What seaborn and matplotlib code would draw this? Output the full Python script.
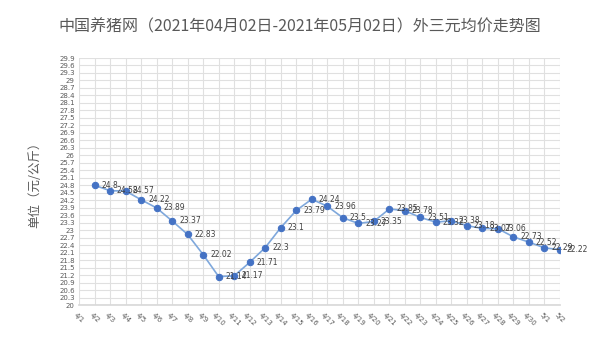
import numpy as np
import pandas as pd
import matplotlib
matplotlib.use("Agg")
import matplotlib.pyplot as plt
import seaborn as sns

# category axis: 4/1 .. 5/2
all_dates = [f"4/{d}" for d in range(1, 31)] + ["5/1", "5/2"]

# prices, 4/2 .. 5/2 (yuan/kg)
price_dates = all_dates[1:]
prices = [24.8, 24.58, 24.57, 24.22, 23.89, 23.37, 22.83, 22.02, 21.14, 21.17,
          21.71, 22.3, 23.1, 23.79, 24.24, 23.96, 23.5, 23.27, 23.35, 23.85,
          23.78, 23.51, 23.32, 23.38, 23.18, 23.07, 23.06, 22.73, 22.52, 22.29,
          22.22]

y_ticks = np.round(np.arange(20, 29.91, 0.3), 1)

df = pd.DataFrame({"date": price_dates, "price": prices})
df["pos"] = [all_dates.index(d) for d in df["date"]]

sns.set_theme(style="white")
plt.rcParams["font.family"] = ["Noto Sans CJK SC", "DejaVu Sans"]

fig = plt.figure(figsize=(6, 3.55), dpi=100)
ax = fig.add_axes([0.1317, 0.1408, 0.8016, 0.6958])

sns.lineplot(data=df, x="pos", y="price", ax=ax, color="#7fa8dc", linewidth=1.2,
             marker="o", markersize=4.6, markerfacecolor="#4472c4",
             markeredgecolor="#4472c4", zorder=3)

# data labels to the right of each point
for _, row in df.iterrows():
    ax.annotate(f"{row['price']:g}", (row["pos"], row["price"]), xytext=(5, 0),
                textcoords="offset points", ha="left", va="center",
                fontsize=5.5, color="#404040", family="DejaVu Sans")

ax.set_xlim(0, len(all_dates) - 1)
ax.set_ylim(20, 29.9)
ax.set_xticks(range(len(all_dates)))
ax.set_xticklabels(all_dates, rotation=-45, ha="center", fontsize=5,
                   color="#595959", family="DejaVu Sans")
ax.set_yticks(y_ticks)
ax.set_yticklabels([f"{v:g}" for v in y_ticks], fontsize=5, color="#595959",
                   family="DejaVu Sans")
ax.tick_params(axis="y", length=0, pad=3)
ax.tick_params(axis="x", length=0, pad=5)

ax.grid(True, color="#e0e0e0", linewidth=0.8)
for s in ax.spines.values():
    s.set_visible(False)
ax.spines["bottom"].set_visible(True)
ax.spines["bottom"].set_color("#d9d9d9")

ax.set_xlabel("")
ax.set_ylabel("单位（元/公斤）", fontsize=9, color="#595959", labelpad=13)

fig.text(0.5, 0.925, "中国养猪网（2021年04月02日-2021年05月02日）外三元均价走势图",
         ha="center", va="center", fontsize=11.5, color="#595959")

plt.savefig("out.png", dpi=100, facecolor="white")
